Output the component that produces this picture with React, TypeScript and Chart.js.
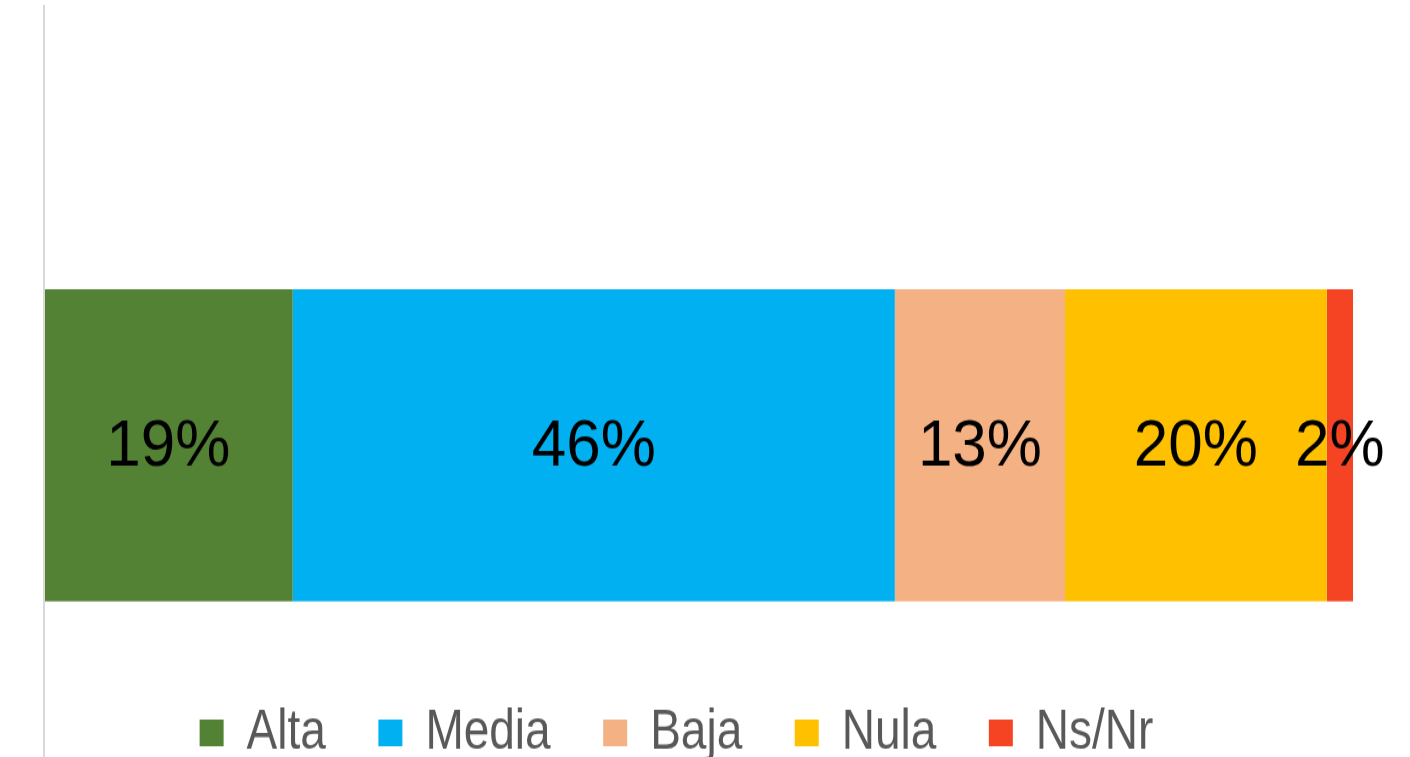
import React, { useEffect, useRef } from "react";
import { Chart, registerables } from "chart.js";

Chart.register(...registerables);

// ---- Data ----
const categories: string[] = [""];
const seriesNames: string[] = ["Alta", "Media", "Baja", "Nula", "Ns/Nr"];
const altaValues: number[] = [19];
const mediaValues: number[] = [46];
const bajaValues: number[] = [13];
const nulaValues: number[] = [20];
const nsnrValues: number[] = [2];

const seriesValues: number[][] = [altaValues, mediaValues, bajaValues, nulaValues, nsnrValues];
const seriesColors: string[] = ["#548235", "#00B0F0", "#F4B183", "#FFC000", "#F54423"];

const FONT = '"Liberation Sans", Arial, Helvetica, sans-serif';

// Internal canvas size and vertical stretch (the reference is drawn stretched vertically)
const CANVAS_W = 1410;
const CANVAS_H = 636;
const STRETCH = 1.215;
const LABEL_FONT_SIZE = 62;
const LABEL_Y_SCALE = 0.872; // data labels are less stretched than the legend text
const Y_AXIS_BOTTOM = 727.7; // extended category axis bottom (plot area continues behind legend)

const extendYAxis = {
  id: "extendYAxis",
  afterLayout(chart: any) {
    const y = chart.scales.y;
    if (!y) return;
    y.bottom = Y_AXIS_BOTTOM;
    y.height = y.bottom - y.top;
    y.configure();
  },
};

const barLabels = {
  id: "barLabels",
  afterDatasetsDraw(chart: any) {
    const ctx = chart.ctx;
    chart.data.datasets.forEach((ds: any, i: number) => {
      const meta = chart.getDatasetMeta(i);
      meta.data.forEach((el: any, j: number) => {
        const p = el.getCenterPoint();
        ctx.save();
        ctx.translate(p.x, p.y + 1.5);
        ctx.scale(1, LABEL_Y_SCALE);
        ctx.font = `${LABEL_FONT_SIZE}px ${FONT}`;
        ctx.fillStyle = "#000000";
        ctx.textAlign = "center";
        ctx.textBaseline = "middle";
        ctx.fillText(`${ds.data[j]}%`, 0, 0);
        ctx.restore();
      });
    });
  },
};

export default function App() {
  const ref = useRef<HTMLCanvasElement>(null);

  useEffect(() => {
    if (!ref.current) return;
    Chart.defaults.font.family = FONT;
    const chart = new Chart(ref.current, {
      type: "bar",
      data: {
        labels: categories,
        datasets: seriesNames.map((name, i) => ({
          label: name,
          data: seriesValues[i],
          backgroundColor: seriesColors[i],
          borderWidth: 0,
          categoryPercentage: 1,
          barPercentage: 0.3553,
        })),
      },
      options: {
        indexAxis: "y",
        responsive: false,
        devicePixelRatio: 1,
        animation: false,
        events: [],
        layout: { padding: { top: 4.94, right: 57, bottom: 0, left: 0 } },
        scales: {
          x: {
            type: "linear",
            stacked: true,
            min: 0,
            max: 100,
            display: false,
          },
          y: {
            type: "category",
            stacked: true,
            display: true,
            grid: { display: false, drawTicks: false, tickLength: 0 },
            ticks: { display: false },
            border: { display: true, color: "#D9D9D9", width: 2, z: 1 },
            afterFit: (scale: any) => {
              scale.width = 44;
            },
          },
        },
        plugins: {
          tooltip: { enabled: false },
          title: { display: false },
          legend: {
            display: true,
            position: "bottom",
            align: "center",
            labels: {
              color: "#595959",
              font: { size: 46, family: FONT },
              boxWidth: 24,
              boxHeight: 22.2,
              padding: 52.5,
            },
          },
        },
      },
      plugins: [extendYAxis, barLabels],
    } as any);
    return () => chart.destroy();
  }, []);

  return (
    <div
      style={{
        position: "absolute",
        left: 0,
        top: 0,
        width: 1410,
        height: 757,
        overflow: "hidden",
        background: "#ffffff",
      }}
    >
      <canvas
        ref={ref}
        width={CANVAS_W}
        height={CANVAS_H}
        style={{ display: "block", width: `${CANVAS_W}px`, height: `${CANVAS_H * STRETCH}px` }}
      />
    </div>
  );
}
